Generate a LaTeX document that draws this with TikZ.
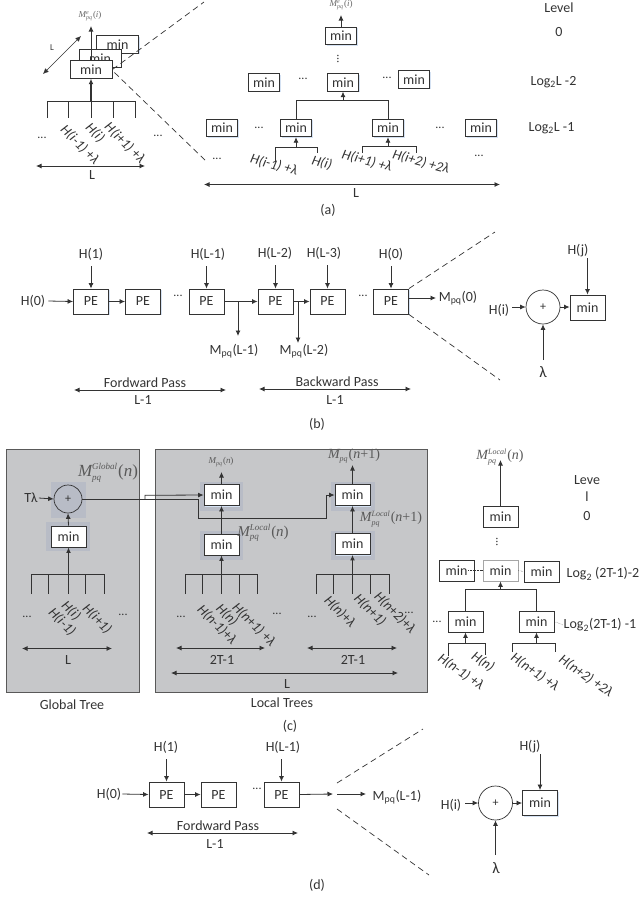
\documentclass[tikz,border=0pt]{standalone}
\usepackage{fontspec}
\setmainfont{Carlito}
\newfontfamily\tms{Liberation Serif}
\usetikzlibrary{arrows.meta,shadows}
\definecolor{ink}{HTML}{333333}
\definecolor{panel}{HTML}{C6C7C9}
\definecolor{halo}{HTML}{B8BCC6}
\definecolor{glow}{HTML}{D5E2F3}
\newcommand{\Mlab}[5]{{\color{#5}\fontsize{#1}{#1}\selectfont$\hbox{\tms\itshape M}^{\hbox{\tms\itshape\fontsize{#2}{#2}\selectfont #3}}_{\hbox{\tms\itshape\fontsize{#2}{#2}\selectfont pq}}$\kern.5pt{\tms #4}}}
\tikzset{
  lab/.style={inner sep=1pt,text=ink,font=\fontsize{14}{14}\selectfont},
  dots/.style={inner sep=0pt,text=ink,font=\fontsize{12}{12}\selectfont},
  rlab/.style={inner sep=0pt,text=ink,font=\fontsize{14}{14}\selectfont\itshape},
  mlab/.style={inner sep=0pt},
  boxbase/.style={draw=ink,line width=.9pt,fill=white,inner sep=0pt,text=ink,font=\fontsize{14}{14}\selectfont,
     drop shadow={shadow xshift=1pt,shadow yshift=-1pt,fill=glow,opacity=1}},
  minb/.style={boxbase,minimum width=31pt,minimum height=17.5pt},
  minc/.style={boxbase,minimum width=35pt,minimum height=21pt},
  peb/.style={boxbase,minimum width=35pt,minimum height=25pt},
  addc/.style={circle,draw=ink,line width=.7pt,inner sep=0pt,minimum size=34pt,text=ink,font=\fontsize{12}{12}\selectfont},
  ln/.style={draw=ink,line width=.8pt},
  ar/.style={ln,-{Latex[length=5.5pt,width=5pt]}},
  dar/.style={ln,{Latex[length=5.5pt,width=5pt]}-{Latex[length=5.5pt,width=5pt]}},
  tar/.style={ar,line width=1.5pt},
  dsh/.style={draw=ink,line width=.7pt,dash pattern=on 6pt off 4pt},
  pan/.style={draw=black!65,line width=.9pt,fill=panel,drop shadow={shadow xshift=1pt,shadow yshift=-1pt,fill=glow,opacity=1}},
  hal/.style={fill=halo,inner sep=0pt}
}
\begin{document}
\begin{tikzpicture}[x=1pt,y=-1pt]
\useasboundingbox (0,0) rectangle (641,898);
% ---------- (a) left
\node[mlab] (a0) at (90,16) {\Mlab{9}{6}{e}{(\textit{i})}{black!60}};
\node[minb,minimum width=42pt] (as3) at (117.5,44.5) {min};
\node[minb,minimum width=42pt] (as2) at (100,58.5) {min};
\node[minb,minimum width=42pt] (as1) at (91,69.5) {min};
\draw[ar] (as1.north) -- (91,26) coordinate (as1t);
\coordinate (aL1) at (43,74); \coordinate (aL2) at (81,36);
\draw[dar,line width=.6pt] (aL1) -- (aL2);
\node[lab,font=\fontsize{9}{9}\selectfont] (aLt) at (52,48) {L};
\draw[ln] (47,118) coordinate(c1) |- (135,101) coordinate(c2) -- (135,118);
\draw[ln] (68,101) -- (68,118) (91,101) -- (91,118) (113,101) -- (113,118);
\draw[tar] (91,101) -- (as1.south);
\node[rlab,rotate=-45] (al1) at (80,145) {H(i-1) +λ};
\node[rlab,rotate=-45] (al2) at (95,133) {H(i)};
\node[rlab,rotate=-45] (al3) at (125,143) {H(i+1) +λ};
\node[dots] (ad1) at (42,138) {...};
\node[dots] (ad2) at (158,136) {...};
\coordinate (aa1) at (36,166); \coordinate (aa2) at (145,166);
\draw[dar] (aa1) -- (aa2);
\node[lab] (aat) at (92,175) {L};
\coordinate (ad3) at (204,2); \coordinate (ad4) at (207,162);
\draw[dsh] (as1.east) -- (ad3);
\draw[dsh] (as1.east) ++(2,3) -- (ad4);
% ---------- (a) right
\node[minb] (t0) at (341,36) {min};
\node[mlab] (t0l) at (341,5) {\Mlab{9}{6}{e}{(\textit{i})}{black!60}};
\draw[ar] (t0.north) -- (341,15);
\node[dots,rotate=90] (tv) at (338,59) {...};
\node[minb] (t1) at (264,82.5) {min};
\node[minb] (t2) at (343,82.5) {min};
\node[minb] (t3) at (414,79.5) {min};
\node[dots] at (303,79) {...};
\node[dots] at (387,78) {...};
\node[minb] (u1) at (222,128) {min};
\node[minb] (u2) at (296,128) {min};
\node[minb] (u3) at (388,128) {min};
\node[minb] (u4) at (481,128) {min};
\node[dots] at (259,128) {...};
\node[dots] at (440,128) {...};
\draw[ln] (u2.north) |- (u3.north |- 0,100) -- (u3.north);
\draw[ar] (t2.south |- 0,100) -- (t2.south);
\draw[ln] (275,162) |- (317,147) -- (317,153);
\draw[ar] (u2.south |- 0,147) -- (u2.south);
\draw[ln] (362.5,153) |- (416.7,146) -- (416.7,153);
\draw[ar] (u3.south |- 0,146) -- (u3.south);
\node[rlab,rotate=-15] at (274,165) {H(i-1) +λ};
\node[rlab,rotate=-15] at (322,163) {H(i)};
\node[rlab,rotate=-15] at (367,161) {H(i+1) +λ};
\node[rlab,rotate=-15] at (421,162) {H(i+2) +2λ};
\node[dots] at (217,159) {...};
\node[dots] at (479,156) {...};
\coordinate (ab1) at (204,184.5); \coordinate (ab2) at (500,184.5);
\draw[dar] (ab1) -- (ab2);
\node[lab] at (356,193) {L};
\node[lab] at (559,8) {Level};
\node[lab] at (559,32) {0};
\node[lab] at (553.5,82) {Log\textsubscript{2}L -2};
\node[lab] at (551.5,128) {Log\textsubscript{2}L -1};
\node[lab] at (328,210) {(a)};
% ---------- (b)
\node[peb] (p1) at (91,301.5) {PE};
\node[peb] (p2) at (143,301.5) {PE};
\node[peb] (p3) at (206.5,301.5) {PE};
\node[peb] (p4) at (275.5,301.5) {PE};
\node[peb] (p5) at (327.5,301.5) {PE};
\node[peb] (p6) at (391,301.5) {PE};
\node[lab] (h0) at (33,301) {H(0)};
\node[lab] (h1) at (91,254) {H(1)};
\node[lab] (h2) at (208,254) {H(L-1)};
\node[lab] (h3) at (275,253) {H(L-2)};
\node[lab] (h4) at (324,253) {H(L-3)};
\node[lab] (h5) at (391,254) {H(0)};
\draw[ar] (h0.east) ++(2,0) -- (p1.west);
\draw[ar] (p1.east) -- (p2.west);
\draw[ar] (p3.east) -- (p4.west);
\draw[ar] (p4.east) -- (p5.west);
\draw[ar] (91,266) -- (p1.north);
\draw[ar] (206.5,266) -- (p3.north);
\draw[ar] (275.5,265) -- (p4.north);
\draw[ar] (327.5,265) -- (p5.north);
\draw[ar] (391,266) -- (p6.north);
\node[dots] at (178,296) {...};
\node[dots] at (363,296) {...};
\node[lab] (m1) at (234,351) {M\textsubscript{pq}(L-1)};
\node[lab] (m2) at (304,351) {M\textsubscript{pq}(L-2)};
\draw[ar] (238,301.5) -- (238,336);
\draw[ar] (298,301.5) -- (298,343);
\node[lab] (m3) at (458,298) {M\textsubscript{pq}(0)};
\draw[ar] (408.5,298) -- (436,298);
\coordinate (bd1) at (495,232); \coordinate (bd2) at (500,380);
\draw[dsh] (p6.north east) -- (bd1);
\draw[dsh] (p6.south east) -- (bd2);
\node[addc] (bc) at (543,307) {+};
\node[minc,minimum height=25pt] (bm) at (587.5,307.5) {min};
\node[lab] (bi) at (499,310) {H(i)};
\node[lab] (bj) at (578,251) {H(j)};
\node[lab,font=\fontsize{16}{16}\selectfont] (bl) at (543,372) {λ};
\draw[ar] (512,307) -- (bc.west);
\draw[ar] (bc.east) -- (bm.west |- bc.east);
\draw[ar] (587.5,258) -- (bm.north);
\draw[ar] (bc.south |- 0,360) -- (bc.south);
\node[lab] at (145,383) {Fordward Pass};
\node[lab] at (143,400) {L-1};
\coordinate (bf1) at (74,390); \coordinate (bf2) at (226,390);
\draw[dar] (bf1) -- (bf2);
\node[lab] at (337,382) {Backward Pass};
\node[lab] at (335,400) {L-1};
\coordinate (bb1) at (259,389); \coordinate (bb2) at (411,389);
\draw[dar] (bb1) -- (bb2);
\node[lab] at (317,424) {(b)};
% ---------- (c) panels
\path[pan] (6,449) rectangle (139,692);
\path[pan] (155,449) rectangle (427,692);
\fill[halo] (51,482) rectangle (86,518);
\fill[halo] (46,522) rectangle (90,551);
\fill[halo] (200,482) rectangle (243,511);
\fill[halo] (200,531) rectangle (243,560);
\fill[halo] (331,482) rectangle (375,511);
\fill[halo] (331,531) rectangle (375,560);
% Global
\node[addc,minimum size=28pt] (gc) at (68,499) {+};
\node[minc] (gm) at (68.5,536.5) {min};
\node[lab] (gt) at (31,498) {Tλ};
\node[mlab] (gl) at (108,473) {\Mlab{17}{9}{Global}{(\textit{n})}{black!65}};
\draw[ar] (gt.east) -- (gc.west);
\draw[ar] (gm.north) -- (gc.south);
\draw[ln] (31,594) |- (104,574.5) -- (104,594);
\draw[ln] (48.5,574.5) -- (48.5,594) (68,574.5) -- (68,594) (85,574.5) -- (85,594);
\draw[tar] (68.5,574.5) -- (gm.south);
\node[rlab,rotate=-45] at (62,622) {H(i-1)};
\node[rlab,rotate=-45] at (71,611) {H(i)};
\node[rlab,rotate=-45] at (97,619) {H(i+1)};
\node[dots] at (27,617) {...};
\node[dots] at (123,615) {...};
\coordinate (gl1) at (22,648.5); \coordinate (gl2) at (112,648.5);
\draw[dar] (gl1) -- (gl2);
\node[lab] at (68,660) {L};
\node[lab] at (72,705) {Global Tree};
% Local
\node[minc] (l1) at (221.5,495) {min};
\node[minc] (l2) at (221.5,544.5) {min};
\node[minc] (l3) at (352.5,495) {min};
\node[minc] (l4) at (352.5,544) {min};
\draw[ar] (l2.north) -- (l1.south);
\draw[ar] (l4.north) -- (l3.south);
\node[mlab] (l1t) at (221,462) {\Mlab{9}{6}{}{(\textit{n})}{black!65}};
\node[mlab] (l3t) at (354,456) {\Mlab{14}{8}{}{(\textit{n}+1)}{black!65}};
\draw[ar] (l1.north) -- (221.5,472);
\draw[ar] (l3.north) -- (352.5,465);
\node[mlab] at (263,533) {\Mlab{15}{9}{Local}{(\textit{n})}{black!65}};
\node[mlab] at (391,519) {\Mlab{14}{8}{Local}{(\textit{n}+1)}{black!65}};
\draw[ln] (gc.east) -- (198,499) |- (326,518) -- (326,495);
\draw[ar] (326,518) -- (326,495) -- (l3.west);
\draw[ar] (145,499) -- (145,495.3) -- (l1.west);
\draw[ln] (185,594) |- (257,574.5) -- (257,594);
\draw[ln] (202,574.5) -- (202,594) (221.5,574.5) -- (221.5,594) (239,574.5) -- (239,594);
\draw[tar] (221.5,574.5) -- (l2.south);
\draw[ln] (316,594) |- (389,574.5) -- (389,594);
\draw[ln] (333,574.5) -- (333,594) (352.5,574.5) -- (352.5,594) (370,574.5) -- (370,594);
\draw[tar] (352.5,574.5) -- (l4.south);
\node[rlab,rotate=-45] at (217,625) {H(n-1)+λ};
\node[rlab,rotate=-45] at (227,615) {H(n)};
\node[rlab,rotate=-45] at (254,625) {H(n+1) +λ};
\node[rlab,rotate=-45] at (340,612) {H(n)+λ};
\node[rlab,rotate=-45] at (370,610) {H(n+1)};
\node[rlab,rotate=-45] at (395,613) {H(n+2)+λ};
\node[dots] at (181,617) {...};
\node[dots] at (277,614) {...};
\node[dots] at (312,617) {...};
\node[dots] at (409,613) {...};
\coordinate (ll1) at (176,648); \coordinate (ll2) at (265,648);
\coordinate (ll3) at (307,648); \coordinate (ll4) at (397,648);
\coordinate (ll5) at (171,673); \coordinate (ll6) at (398,673);
\draw[dar] (ll1) -- (ll2);
\draw[dar] (ll3) -- (ll4);
\draw[dar] (ll5) -- (ll6);
\node[lab] at (222,660) {2T-1};
\node[lab] at (353,660) {2T-1};
\node[lab] at (287,684) {L};
\node[lab] at (282,703) {Local Trees};
\node[lab] at (290,726) {(c)};
% ---------- (c) right
\node[mlab] (r0t) at (500,457) {\Mlab{14}{8}{Local}{(\textit{n})}{black!65}};
\node[minc] (r0) at (500.5,516.5) {min};
\draw[ar] (r0.north) -- (500.5,460);
\node[dots,rotate=90] at (497,542) {...};
\node[minc] (r1) at (456.5,570.5) {min};
\node[minc,draw=black!35] (r2) at (500.5,570.5) {min};
\node[minc] (r3) at (541.5,571.5) {min};
\node[minc] (r4) at (465.5,621.5) {min};
\node[minc] (r5) at (536.5,621.5) {min};
\draw[densely dotted,draw=ink] (r1.east) ++(-6,0) -- (r2.west);
\draw[densely dotted,draw=ink] (r2.east) -- (r3.west);
\draw[ln] (r4.north) |- (r5.north |- 0,589) -- (r5.north);
\draw[ar] (r2.south |- 0,589) -- (r2.south);
\draw[ln] (448,656) |- (485,643) -- (485,655);
\draw[ar] (r4.south |- 0,643) -- (r4.south);
\draw[ln] (512,652) |- (555,643) -- (555,652);
\draw[ar] (r5.south |- 0,643) -- (r5.south);
\node[rlab,rotate=-35] at (461,672) {H(n-1) +λ};
\node[rlab,rotate=-35] at (483,662) {H(n)};
\node[rlab,rotate=-35] at (535,672) {H(n+1) +λ};
\node[rlab,rotate=-35] at (586,676) {H(n+2) +2λ};
\node[dots] at (437,622) {...};
\node[lab] at (587,480) {Leve};
\node[lab] at (587,497) {l};
\node[lab] at (587,516) {0};
\node[lab] at (603,574) {Log\textsubscript{2} (2T-1)-2};
\node[lab] at (600,625) {Log\textsubscript{2}(2T-1) -1};
\draw[densely dotted,draw=ink] (r5.east) -- (563,625);
% ---------- (d)
\node[peb] (d1) at (166.5,794.5) {PE};
\node[peb] (d2) at (218.5,794.5) {PE};
\node[peb] (d3) at (281.5,794.5) {PE};
\node[lab] (dh0) at (109,794) {H(0)};
\node[lab] (dh1) at (166,747) {H(1)};
\node[lab] (dh2) at (283,747) {H(L-1)};
\draw[ar] (dh0.east) -- (d1.west);
\draw[ar] (d1.east) -- (d2.west);
\draw[ar] (d3.east) -- (333,794);
\coordinate (dx) at (337,794);
\node[lab] (dm) at (397,797) {M\textsubscript{pq}(L-1)};
\draw[ar] (dx) -- (366,794);
\draw[ar] (166.5,759) -- (d1.north);
\draw[ar] (281.5,759) -- (d3.north);
\node[dots] at (257,789) {...};
\coordinate (dd1) at (337,783); \coordinate (dd2) at (423,729);
\coordinate (dd3) at (337,809); \coordinate (dd4) at (429,875);
\draw[dsh] (dd1) -- (dd2);
\draw[dsh] (dd3) -- (dd4);
\node[addc] (dc) at (495.5,803) {+};
\node[minc,minimum height=25pt] (dmn) at (540,803) {min};
\node[lab] (di) at (451,805) {H(i)};
\node[lab] (dj) at (530,747) {H(j)};
\node[lab,font=\fontsize{16}{16}\selectfont] (dl) at (496,868) {λ};
\draw[ar] (465,803) -- (dc.west);
\draw[ar] (dc.east) -- (dmn.west);
\draw[ar] (540,754) -- (dmn.north);
\draw[ar] (dc.south |- 0,855) -- (dc.south);
\node[lab] at (218,826) {Fordward Pass};
\node[lab] at (215,844) {L-1};
\coordinate (df1) at (147,833); \coordinate (df2) at (298,833);
\draw[dar] (df1) -- (df2);
\node[lab] at (317,885) {(d)};
\end{tikzpicture}
\end{document}
